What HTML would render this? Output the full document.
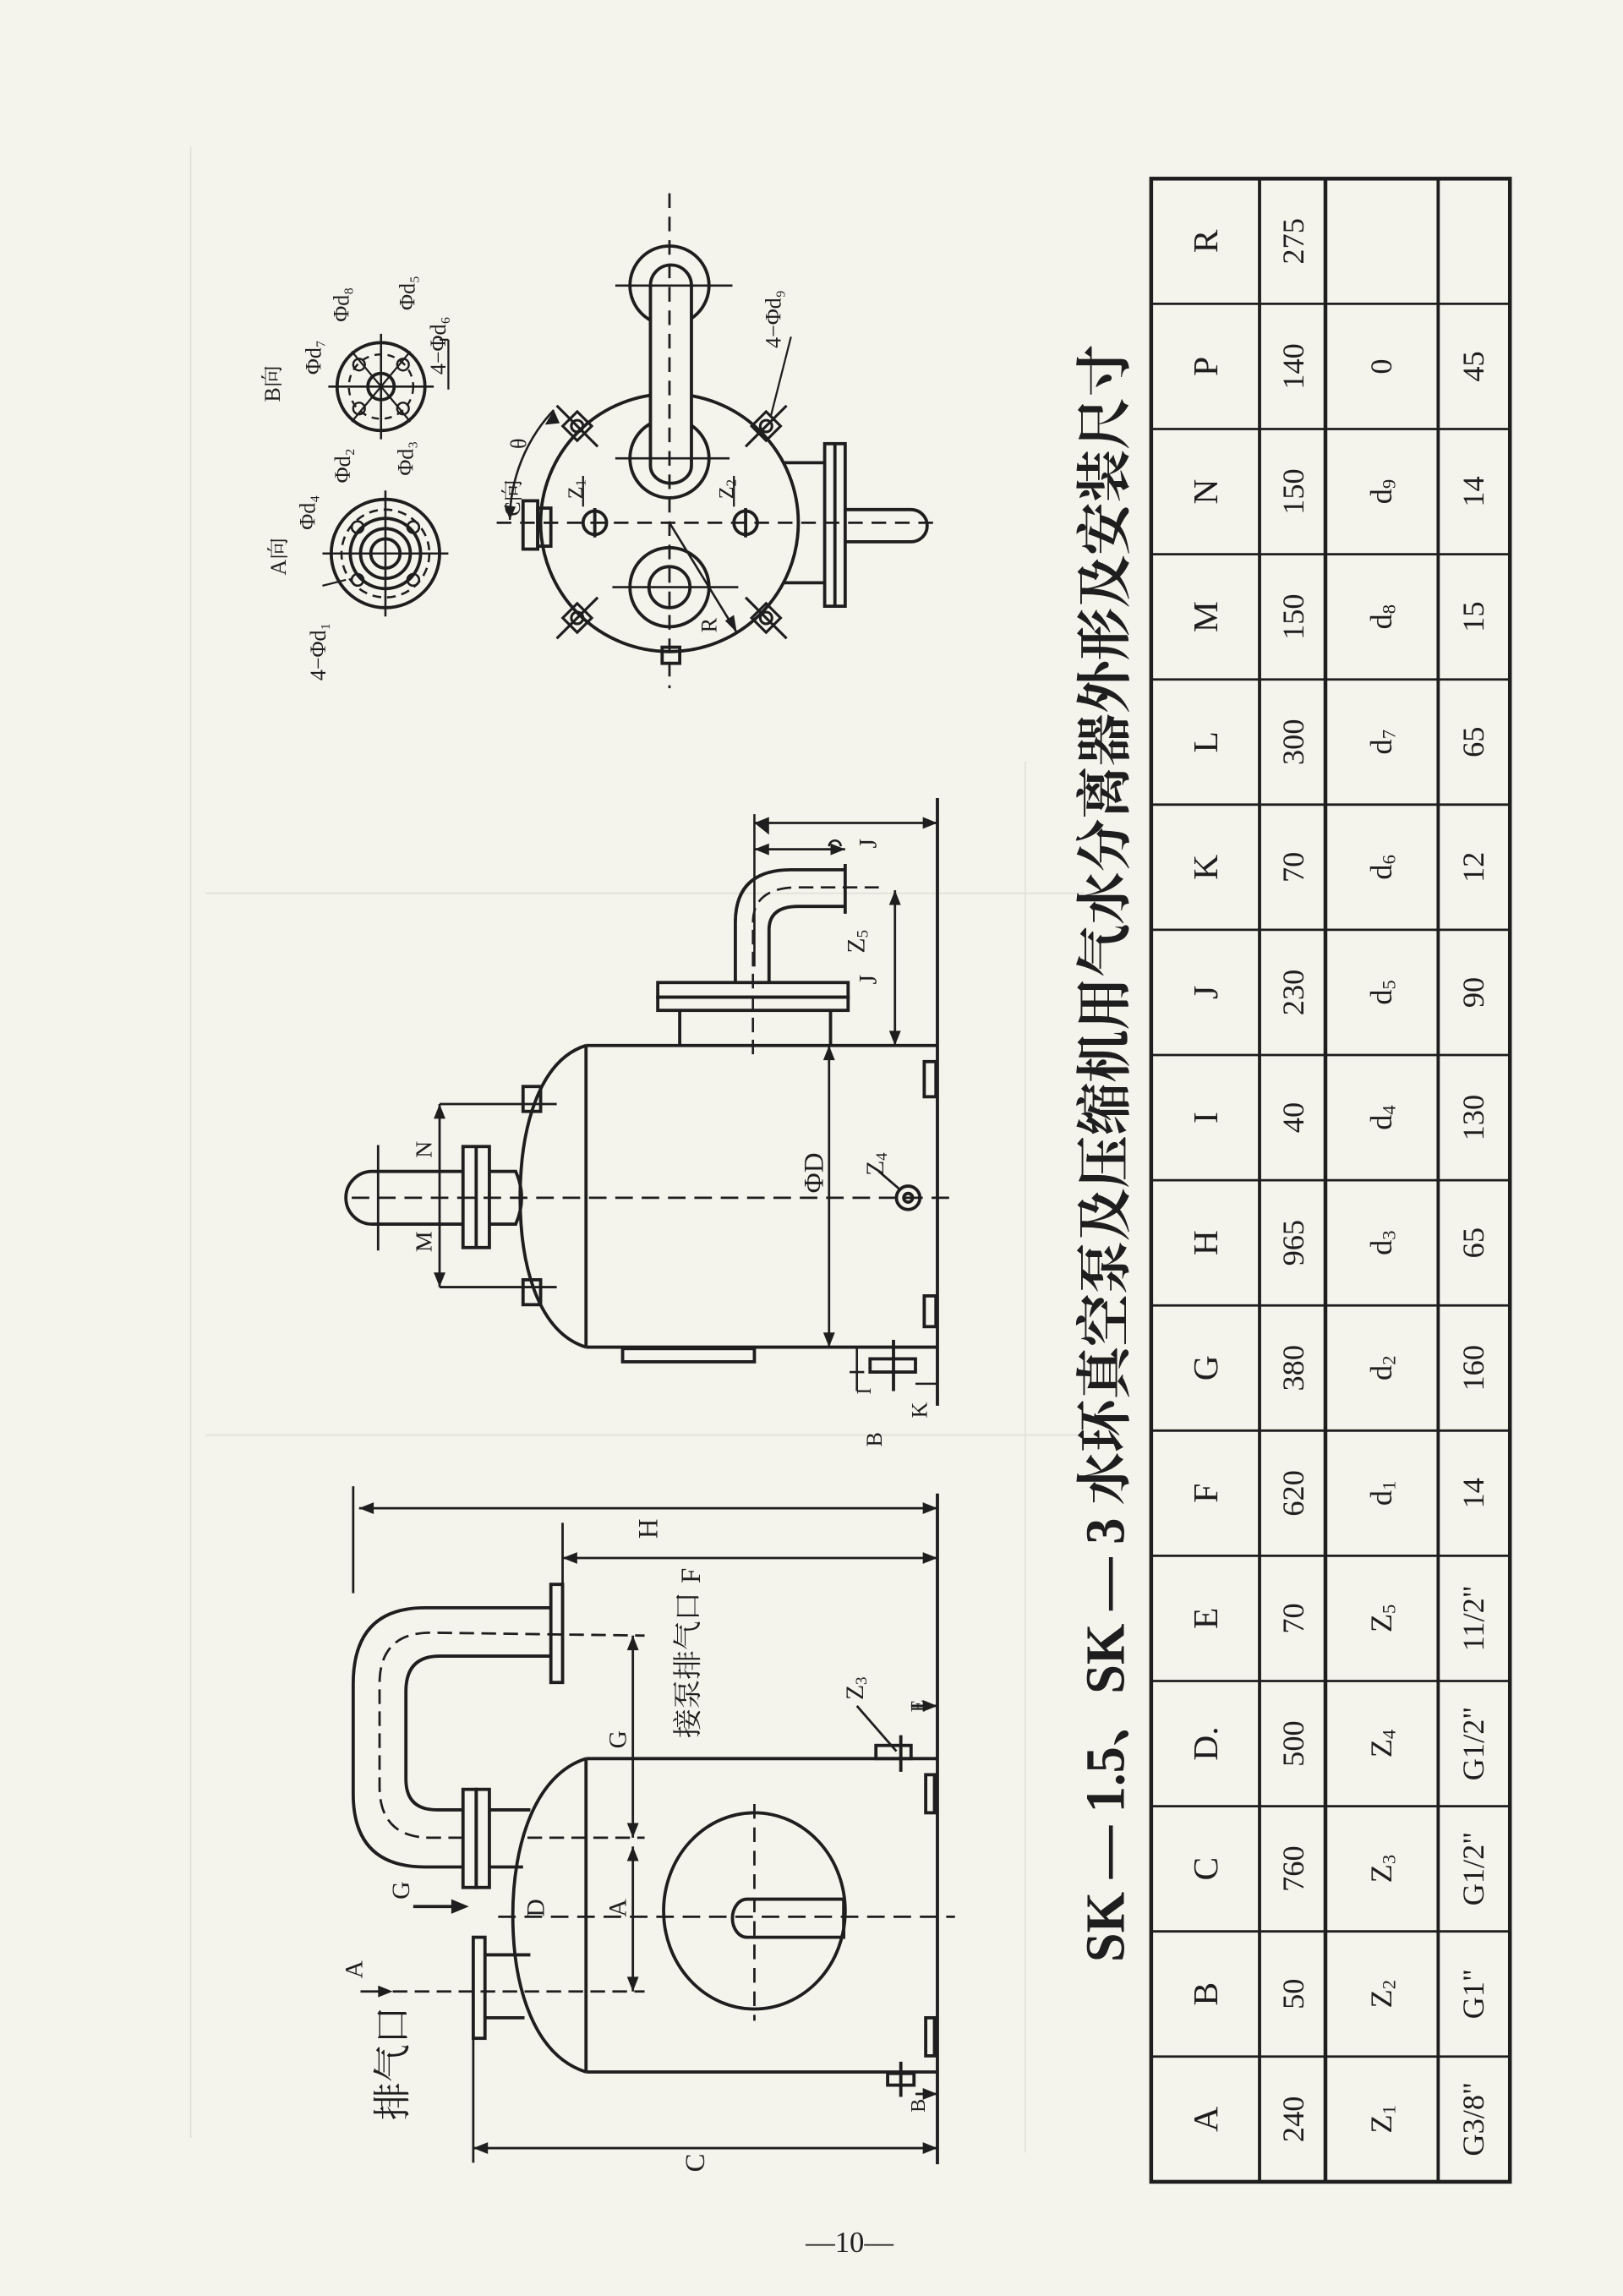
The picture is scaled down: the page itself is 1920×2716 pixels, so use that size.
<!DOCTYPE html>
<html><head><meta charset="utf-8">
<style>
html,body{margin:0;padding:0;background:#f4f3ec;}
svg{display:block;}
text{font-family:"Liberation Serif","Noto Serif CJK SC",serif;fill:#1e1e1e;}
.s{font-family:"Liberation Sans","Noto Sans CJK SC",sans-serif;}
</style></head>
<body>
<svg width="1920" height="2716" viewBox="0 0 1108 1568" xmlns="http://www.w3.org/2000/svg">
<rect width="1108" height="1568" fill="#f4f3ec"/>
<!-- faint ghost grid -->
<g stroke="#e2e1d8" stroke-width="1">
<line x1="130" y1="100" x2="130" y2="1460"/><line x1="700" y1="520" x2="700" y2="1470"/>
<line x1="140" y1="610" x2="740" y2="610"/><line x1="140" y1="980" x2="740" y2="980"/>
</g>

<g stroke="#1e1e1e" stroke-width="2.2" fill="none">
<!-- ===== TABLE ===== -->
<rect x="786" y="122" width="245" height="1368" stroke-width="2.6"/>
<line x1="860" y1="122" x2="860" y2="1490"/>
<line x1="905" y1="122" x2="905" y2="1490" stroke-width="2.6"/>
<line x1="982" y1="122" x2="982" y2="1490"/>
<g stroke-width="1.6">
<line x1="786" y1="207.5" x2="1031" y2="207.5"/><line x1="786" y1="293" x2="1031" y2="293"/>
<line x1="786" y1="378.5" x2="1031" y2="378.5"/><line x1="786" y1="464" x2="1031" y2="464"/>
<line x1="786" y1="549.5" x2="1031" y2="549.5"/><line x1="786" y1="635" x2="1031" y2="635"/>
<line x1="786" y1="720.5" x2="1031" y2="720.5"/><line x1="786" y1="806" x2="1031" y2="806"/>
<line x1="786" y1="891.5" x2="1031" y2="891.5"/><line x1="786" y1="977" x2="1031" y2="977"/>
<line x1="786" y1="1062.5" x2="1031" y2="1062.5"/><line x1="786" y1="1148" x2="1031" y2="1148"/>
<line x1="786" y1="1233.5" x2="1031" y2="1233.5"/><line x1="786" y1="1319" x2="1031" y2="1319"/>
<line x1="786" y1="1404.5" x2="1031" y2="1404.5"/>
</g>

<!-- ===== LOWER VESSEL (side view) ===== -->
<line x1="400" y1="1201" x2="640" y2="1201"/>
<line x1="400" y1="1415" x2="640" y2="1415"/>
<line x1="400" y1="1201" x2="400" y2="1415"/>
<path d="M400,1201 C365,1212 350,1260 350,1308 C350,1358 365,1404 400,1415"/>
<line x1="640" y1="1020" x2="640" y2="1478"/>
<rect x="632" y="1212" width="6" height="26"/><rect x="632" y="1378" width="6" height="26"/>
<ellipse cx="515" cy="1305" rx="62" ry="67"/>
<path d="M576,1297 L510,1297 A10,13 0 0 0 510,1323 L576,1323 Z"/>
<rect x="598" y="1192" width="24" height="9"/>
<rect x="606" y="1416" width="18" height="8"/>
<line x1="615" y1="1185" x2="615" y2="1210"/><line x1="615" y1="1408" x2="615" y2="1432"/>
<!-- exhaust nozzle -->
<rect x="323" y="1323" width="8" height="69"/>
<line x1="331" y1="1335" x2="362" y2="1335"/><line x1="331" y1="1378" x2="358" y2="1378"/>
<!-- U pipe -->
<rect x="316" y="1222" width="9" height="67"/><rect x="325" y="1222" width="9" height="67"/>
<line x1="334" y1="1236" x2="362" y2="1236"/><line x1="334" y1="1275" x2="357" y2="1275"/>
<path d="M316,1275 L290,1275 Q241,1275 241,1225 L241,1150 Q241,1098 290,1098 L376,1098"/>
<path d="M316,1236 L298,1236 Q277,1236 277,1215 L277,1155 Q277,1131 300,1131 L376,1131"/>
<rect x="376" y="1082" width="8" height="67"/>
<path d="M316,1255 L294,1255 Q259,1255 259,1220 L259,1150 Q259,1115 294,1115 L440,1117" stroke-dasharray="10,5" stroke-width="1.6"/>
<!-- dims -->
<line x1="241" y1="1015" x2="241" y2="1088" stroke-width="1.6"/>
<line x1="245" y1="1030" x2="640" y2="1030" stroke-width="1.6"/>
<line x1="384" y1="1040" x2="384" y2="1082" stroke-width="1.6"/>
<line x1="384" y1="1064" x2="640" y2="1064" stroke-width="1.6"/>
<line x1="323" y1="1392" x2="323" y2="1477" stroke-width="1.6"/>
<line x1="323" y1="1467" x2="640" y2="1467" stroke-width="1.6"/>
<line x1="432" y1="1117" x2="432" y2="1255" stroke-width="1.6"/>
<line x1="432" y1="1261" x2="432" y2="1360" stroke-width="1.6"/>
<line x1="340" y1="1309" x2="652" y2="1309" stroke-dasharray="12,6" stroke-width="1.6"/>
<line x1="515" y1="1232" x2="515" y2="1380" stroke-dasharray="10,6" stroke-width="1.6"/>
<line x1="360" y1="1255" x2="440" y2="1255" stroke-dasharray="10,5" stroke-width="1.6"/>
<line x1="268" y1="1360" x2="440" y2="1360" stroke-dasharray="10,5" stroke-width="1.6"/>
<line x1="246" y1="1360" x2="264" y2="1360" stroke-width="1.6"/>
<line x1="282" y1="1302" x2="312" y2="1302" stroke-width="2.2"/>
<line x1="622" y1="1165" x2="640" y2="1165" stroke-width="1.6"/>
<line x1="585" y1="1165" x2="612" y2="1196" stroke-width="1.6"/>
<line x1="625" y1="1430" x2="640" y2="1430" stroke-width="1.6"/>

<!-- ===== UPPER VESSEL ===== -->
<line x1="400" y1="714" x2="640" y2="714"/>
<line x1="400" y1="920" x2="640" y2="920"/>
<line x1="400" y1="714" x2="400" y2="920"/>
<path d="M400,714 C368,724 355,770 355,818 C355,866 368,910 400,920"/>
<line x1="640" y1="545" x2="640" y2="960"/>
<rect x="631" y="725" width="8" height="24"/><rect x="631" y="885" width="8" height="21"/>
<rect x="357" y="742" width="12" height="17"/><rect x="357" y="874" width="12" height="17"/>
<line x1="300" y1="754" x2="380" y2="754" stroke-width="1.6"/><line x1="300" y1="879" x2="380" y2="879" stroke-width="1.6"/>
<line x1="300" y1="754" x2="300" y2="879" stroke-width="1.6"/>
<!-- top nozzle -->
<rect x="316" y="783" width="18" height="69"/><line x1="325" y1="783" x2="325" y2="852"/>
<path d="M316,800 L254,800 A18,18 0 0 0 254,836 L316,836"/>
<path d="M334,800 L352,800 Q360,818 352,836 L334,836"/>
<line x1="240" y1="818" x2="650" y2="818" stroke-dasharray="12,6" stroke-width="1.6"/>
<line x1="258" y1="782" x2="258" y2="854" stroke-width="1.6"/>
<!-- right flange & elbow -->
<rect x="449" y="671" width="130" height="10"/><rect x="449" y="681" width="130" height="9"/>
<line x1="464" y1="690" x2="464" y2="714"/><line x1="567" y1="690" x2="567" y2="714"/>
<path d="M502,671 L502,630 Q502,594 540,594 L577,594"/>
<path d="M525,671 L525,635 Q525,619 545,619 L577,619"/>
<line x1="577" y1="590" x2="577" y2="624"/>
<path d="M514,720 L514,630 Q514,606 545,606 L600,606" stroke-dasharray="10,5" stroke-width="1.5"/>
<line x1="515" y1="556" x2="515" y2="660" stroke-width="1.5"/>
<line x1="515" y1="562" x2="640" y2="562" stroke-width="1.6"/>
<line x1="515" y1="580" x2="577" y2="580" stroke-width="1.6"/>
<line x1="611" y1="608" x2="611" y2="714" stroke-width="1.6"/>
<path d="M566,578 a4,4 0 0 1 8,0" stroke-width="1.5"/>
<line x1="566" y1="714" x2="566" y2="920" stroke-width="1.6"/>
<circle cx="620" cy="818" r="8"/><circle cx="620" cy="818" r="3"/>
<line x1="600" y1="800" x2="614" y2="812" stroke-width="1.6"/>
<rect x="425" y="921" width="90" height="9"/>
<rect x="594" y="928" width="31" height="9"/>
<line x1="610" y1="915" x2="610" y2="950"/>
<line x1="580" y1="920" x2="590" y2="920" stroke-width="1.5"/>
<line x1="580" y1="937" x2="590" y2="937" stroke-width="1.5"/>
<line x1="585" y1="920" x2="585" y2="950" stroke-width="1.5"/>
<line x1="625" y1="945" x2="640" y2="945" stroke-width="1.5"/>

<!-- ===== TOP RIGHT VIEWS ===== -->
<!-- C view -->
<circle cx="457" cy="357" r="88"/>
<circle cx="457" cy="401" r="27"/><circle cx="457" cy="401" r="14"/>
<circle cx="457" cy="313" r="27"/>
<circle cx="457" cy="195" r="27"/>
<path d="M444,195 L444,318 A14,12 0 0 0 472,318 L472,195 A14,14 0 0 0 444,195 Z" fill="#f4f3ec"/>
<line x1="457" y1="132" x2="457" y2="470" stroke-dasharray="10,6" stroke-width="1.6"/>
<line x1="339" y1="357" x2="640" y2="357" stroke-dasharray="10,6" stroke-width="1.6"/>
<line x1="420" y1="195" x2="500" y2="195" stroke-width="1.5"/>
<line x1="420" y1="313" x2="498" y2="313" stroke-width="1.5"/>
<line x1="418" y1="401" x2="504" y2="401" stroke-width="1.5"/>
<rect x="563" y="303" width="14" height="111"/><line x1="570" y1="303" x2="570" y2="414"/>
<line x1="534" y1="316" x2="563" y2="316"/><line x1="534" y1="398" x2="563" y2="398"/>
<path d="M577,348 L622,348 A11,11 0 0 1 622,370 L577,370"/>
<rect x="357" y="342" width="10" height="33"/><rect x="367" y="347" width="9" height="26"/>
<circle cx="406" cy="357" r="8"/><line x1="406" y1="347" x2="406" y2="367"/>
<circle cx="509" cy="357" r="8"/><line x1="509" y1="347" x2="509" y2="367"/>
<rect x="452" y="442" width="12" height="11"/>
<g stroke-width="1.8">
<rect x="387" y="284" width="14" height="14" transform="rotate(45 394 291)"/><circle cx="394" cy="291" r="4"/>
<rect x="516" y="284" width="14" height="14" transform="rotate(45 523 291)"/><circle cx="523" cy="291" r="4"/>
<rect x="387" y="415" width="14" height="14" transform="rotate(45 394 422)"/><circle cx="394" cy="422" r="4"/>
<rect x="516" y="415" width="14" height="14" transform="rotate(45 523 422)"/><circle cx="523" cy="422" r="4"/>
<line x1="380" y1="277" x2="408" y2="305"/><line x1="537" y1="277" x2="509" y2="305"/>
<line x1="380" y1="436" x2="408" y2="408"/><line x1="537" y1="436" x2="509" y2="408"/>
</g>
<path d="M348,355 A110,110 0 0 1 378,280" stroke-width="1.5"/>
<line x1="457" y1="357" x2="503" y2="432" stroke-width="1.5"/>
<line x1="398" y1="346" x2="398" y2="325" stroke-width="1.3"/>
<line x1="501" y1="346" x2="501" y2="325" stroke-width="1.3"/>
<line x1="526" y1="285" x2="540" y2="230" stroke-width="1.3"/>
<!-- A view -->
<circle cx="263" cy="378" r="37"/>
<circle cx="263" cy="378" r="30" stroke-dasharray="6,4" stroke-width="1.5"/>
<circle cx="263" cy="378" r="24"/><circle cx="263" cy="378" r="17"/><circle cx="263" cy="378" r="10"/>
<line x1="220" y1="378" x2="306" y2="378" stroke-width="1.5"/><line x1="263" y1="335" x2="263" y2="421" stroke-width="1.5"/>
<circle cx="244" cy="360" r="4" stroke-width="1.5"/><circle cx="282" cy="360" r="4" stroke-width="1.5"/>
<circle cx="244" cy="396" r="4" stroke-width="1.5"/><circle cx="282" cy="396" r="4" stroke-width="1.5"/>
<line x1="220" y1="400" x2="236" y2="396" stroke-width="1.3"/>
<!-- B view -->
<circle cx="260" cy="264" r="30"/>
<circle cx="260" cy="264" r="22" stroke-dasharray="5,4" stroke-width="1.4"/>
<circle cx="260" cy="264" r="9"/>
<line x1="224" y1="264" x2="296" y2="264" stroke-width="1.5"/><line x1="260" y1="228" x2="260" y2="300" stroke-width="1.5"/>
<circle cx="245" cy="249" r="4" stroke-width="1.4"/><circle cx="275" cy="249" r="4" stroke-width="1.4"/>
<circle cx="245" cy="279" r="4" stroke-width="1.4"/><circle cx="275" cy="279" r="4" stroke-width="1.4"/>
<line x1="240" y1="240" x2="280" y2="288" stroke-width="1.3"/><line x1="280" y1="240" x2="240" y2="288" stroke-width="1.3"/>
<line x1="300" y1="232" x2="306" y2="232" stroke-width="1.3"/><line x1="306" y1="232" x2="306" y2="266" stroke-width="1.3"/>
</g>

<!-- arrowheads -->
<g fill="#1e1e1e">
<polygon points="245,1030 255,1026 255,1034"/><polygon points="640,1030 630,1026 630,1034"/>
<polygon points="384,1064 394,1060 394,1068"/><polygon points="640,1064 630,1060 630,1068"/>
<polygon points="323,1467 333,1463 333,1471"/><polygon points="640,1467 630,1463 630,1471"/>
<polygon points="432,1117 428,1127 436,1127"/><polygon points="432,1255 428,1245 436,1245"/>
<polygon points="432,1261 428,1271 436,1271"/><polygon points="432,1360 428,1350 436,1350"/>
<polygon points="320,1302 308,1297 308,1307"/><polygon points="268,1360 258,1356 258,1364"/>
<polygon points="300,754 296,764 304,764"/><polygon points="300,879 296,869 304,869"/>
<polygon points="515,562 525,558 525,570"/><polygon points="640,562 630,558 630,566"/>
<polygon points="515,580 525,576 525,584"/><polygon points="577,580 567,576 567,584"/>
<polygon points="611,608 607,618 615,618"/><polygon points="611,714 607,704 615,704"/>
<polygon points="566,714 562,724 570,724"/><polygon points="566,920 562,910 570,910"/>
<polygon points="640,1165 630,1161 630,1169"/><polygon points="640,1430 630,1426 630,1434"/>
<polygon points="378,280 372,290 382,289"/><polygon points="348,355 344,345 352,346"/>
<polygon points="503,432 495,424 501,420"/>
</g>

<!-- ===== TEXT (rotated) ===== -->
<g font-size="24" text-anchor="middle" dominant-baseline="central">
<text transform="translate(823 164.75) rotate(-90)">R</text>
<text transform="translate(823 250.25) rotate(-90)">P</text>
<text transform="translate(823 335.75) rotate(-90)">N</text>
<text transform="translate(823 421.25) rotate(-90)">M</text>
<text transform="translate(823 506.75) rotate(-90)">L</text>
<text transform="translate(823 592.25) rotate(-90)">K</text>
<text transform="translate(823 677.75) rotate(-90)">J</text>
<text transform="translate(823 763.25) rotate(-90)">I</text>
<text transform="translate(823 848.75) rotate(-90)">H</text>
<text transform="translate(823 934.25) rotate(-90)">G</text>
<text transform="translate(823 1019.75) rotate(-90)">F</text>
<text transform="translate(823 1105.25) rotate(-90)">E</text>
<text transform="translate(823 1190.75) rotate(-90)">D.</text>
<text transform="translate(823 1276.25) rotate(-90)">C</text>
<text transform="translate(823 1361.75) rotate(-90)">B</text>
<text transform="translate(823 1447.25) rotate(-90)">A</text>
</g>
<g font-size="21" text-anchor="middle" dominant-baseline="central">
<text transform="translate(883 164.75) rotate(-90)">275</text>
<text transform="translate(883 250.25) rotate(-90)">140</text>
<text transform="translate(883 335.75) rotate(-90)">150</text>
<text transform="translate(883 421.25) rotate(-90)">150</text>
<text transform="translate(883 506.75) rotate(-90)">300</text>
<text transform="translate(883 592.25) rotate(-90)">70</text>
<text transform="translate(883 677.75) rotate(-90)">230</text>
<text transform="translate(883 763.25) rotate(-90)">40</text>
<text transform="translate(883 848.75) rotate(-90)">965</text>
<text transform="translate(883 934.25) rotate(-90)">380</text>
<text transform="translate(883 1019.75) rotate(-90)">620</text>
<text transform="translate(883 1105.25) rotate(-90)">70</text>
<text transform="translate(883 1190.75) rotate(-90)">500</text>
<text transform="translate(883 1276.25) rotate(-90)">760</text>
<text transform="translate(883 1361.75) rotate(-90)">50</text>
<text transform="translate(883 1447.25) rotate(-90)">240</text>

<text transform="translate(943 250.25) rotate(-90)">0</text>
<text transform="translate(943 335.75) rotate(-90)">d<tspan font-size="13" dy="5">9</tspan></text>
<text transform="translate(943 421.25) rotate(-90)">d<tspan font-size="13" dy="5">8</tspan></text>
<text transform="translate(943 506.75) rotate(-90)">d<tspan font-size="13" dy="5">7</tspan></text>
<text transform="translate(943 592.25) rotate(-90)">d<tspan font-size="13" dy="5">6</tspan></text>
<text transform="translate(943 677.75) rotate(-90)">d<tspan font-size="13" dy="5">5</tspan></text>
<text transform="translate(943 763.25) rotate(-90)">d<tspan font-size="13" dy="5">4</tspan></text>
<text transform="translate(943 848.75) rotate(-90)">d<tspan font-size="13" dy="5">3</tspan></text>
<text transform="translate(943 934.25) rotate(-90)">d<tspan font-size="13" dy="5">2</tspan></text>
<text transform="translate(943 1019.75) rotate(-90)">d<tspan font-size="13" dy="5">1</tspan></text>
<text transform="translate(943 1105.25) rotate(-90)">Z<tspan font-size="13" dy="5">5</tspan></text>
<text transform="translate(943 1190.75) rotate(-90)">Z<tspan font-size="13" dy="5">4</tspan></text>
<text transform="translate(943 1276.25) rotate(-90)">Z<tspan font-size="13" dy="5">3</tspan></text>
<text transform="translate(943 1361.75) rotate(-90)">Z<tspan font-size="13" dy="5">2</tspan></text>
<text transform="translate(943 1447.25) rotate(-90)">Z<tspan font-size="13" dy="5">1</tspan></text>

<text transform="translate(1006 250.25) rotate(-90)">45</text>
<text transform="translate(1006 335.75) rotate(-90)">14</text>
<text transform="translate(1006 421.25) rotate(-90)">15</text>
<text transform="translate(1006 506.75) rotate(-90)">65</text>
<text transform="translate(1006 592.25) rotate(-90)">12</text>
<text transform="translate(1006 677.75) rotate(-90)">90</text>
<text transform="translate(1006 763.25) rotate(-90)">130</text>
<text transform="translate(1006 848.75) rotate(-90)">65</text>
<text transform="translate(1006 934.25) rotate(-90)">160</text>
<text transform="translate(1006 1019.75) rotate(-90)">14</text>
<text transform="translate(1006 1105.25) rotate(-90)">11/2"</text>
<text transform="translate(1006 1190.75) rotate(-90)">G1/2"</text>
<text transform="translate(1006 1276.25) rotate(-90)">G1/2"</text>
<text transform="translate(1006 1361.75) rotate(-90)">G1"</text>
<text transform="translate(1006 1447.25) rotate(-90)">G3/8"</text>
</g>

<!-- title -->
<text transform="translate(755 1340) rotate(-90)" font-size="38" font-weight="bold" dominant-baseline="central" textLength="1105" lengthAdjust="spacingAndGlyphs">SK — 1.5、SK — 3 水环真空泵及压缩机用气水分离器外形及安装尺寸</text>

<!-- page number -->
<text x="580" y="1538" font-size="20" text-anchor="middle">—10—</text>

<!-- drawing labels -->
<g class="s" font-size="17" text-anchor="middle" dominant-baseline="central">
<text transform="translate(443 1044) rotate(-90)" font-size="19">H</text>
<text transform="translate(472 1076) rotate(-90)" font-size="19">F</text>
<text transform="translate(475 1477) rotate(-90)" font-size="19">C</text>
<text transform="translate(422 1188) rotate(-90)">G</text>
<text transform="translate(422 1303) rotate(-90)">A</text>
<text transform="translate(366 1303) rotate(-90)">D</text>
<text transform="translate(274 1291) rotate(-90)">G</text>
<text transform="translate(242 1345) rotate(-90)">A</text>
<text transform="translate(470 1137) rotate(-90)" font-size="20">接泵排气口</text>
<text transform="translate(268 1409) rotate(-90)" font-size="26">排气口</text>
<text transform="translate(584 1153) rotate(-90)">Z<tspan font-size="11" dy="4">3</tspan></text>
<text transform="translate(627 1165) rotate(-90)" font-size="14">E</text>
<text transform="translate(627 1438) rotate(-90)" font-size="14">B</text>
<text transform="translate(597 983) rotate(-90)" font-size="15">B</text>
<text transform="translate(628 963) rotate(-90)" font-size="15">K</text>
<text transform="translate(590 950) rotate(-90)" font-size="14">I</text>
<text transform="translate(289 848) rotate(-90)" font-size="16">M</text>
<text transform="translate(289 785) rotate(-90)" font-size="16">N</text>
<text transform="translate(556 801) rotate(-90)" font-size="19">ΦD</text>
<text transform="translate(598 795) rotate(-90)">Z<tspan font-size="11" dy="4">4</tspan></text>
<text transform="translate(585 643) rotate(-90)">Z<tspan font-size="11" dy="4">5</tspan></text>
<text transform="translate(593 669) rotate(-90)">J</text>
<text transform="translate(593 576) rotate(-90)">J</text>
<text transform="translate(190 380) rotate(-90)" font-size="15">A向</text>
<text transform="translate(186 262) rotate(-90)" font-size="15">B向</text>
<text transform="translate(217 445) rotate(-90)" font-size="15">4−Φd₁</text>
<text transform="translate(210 350) rotate(-90)" font-size="15">Φd₄</text>
<text transform="translate(234 318) rotate(-90)" font-size="15">Φd₂</text>
<text transform="translate(277 313) rotate(-90)" font-size="15">Φd₃</text>
<text transform="translate(214 244) rotate(-90)" font-size="15">Φd₇</text>
<text transform="translate(233 208) rotate(-90)" font-size="15">Φd₈</text>
<text transform="translate(278 200) rotate(-90)" font-size="15">Φd₅</text>
<text transform="translate(299 236) rotate(-90)" font-size="15">4−Φd₆</text>
<text transform="translate(350 340) rotate(-90)" font-size="15">C向</text>
<text transform="translate(354 303) rotate(-90)" font-size="15">θ</text>
<text transform="translate(393 334) rotate(-90)" font-size="14">Z<tspan font-size="10" dy="3">1</tspan></text>
<text transform="translate(496 334) rotate(-90)" font-size="14">Z<tspan font-size="10" dy="3">2</tspan></text>
<text transform="translate(484 427) rotate(-90)" font-size="15">R</text>
<text transform="translate(528 218) rotate(-90)" font-size="15">4−Φd₉</text>
</g>
</svg>
</body></html>
